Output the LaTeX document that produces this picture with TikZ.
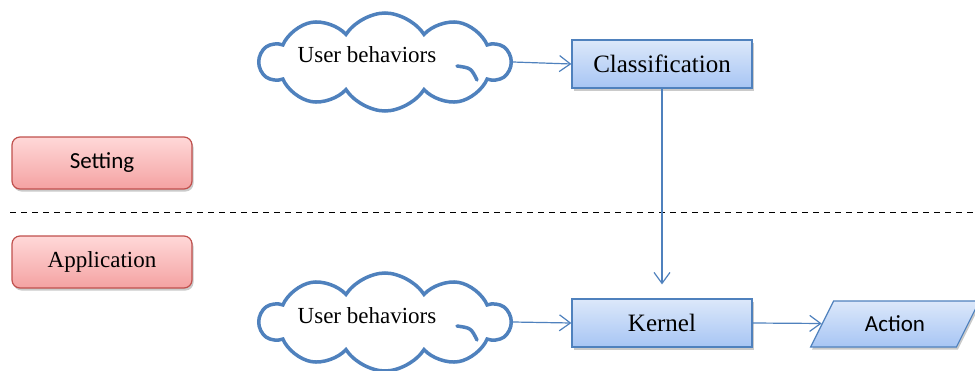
\documentclass[tikz,border=0pt]{standalone}
\usepackage{fontspec}
\setmainfont{Liberation Serif}
\newfontfamily\calib{Carlito}
\usetikzlibrary{shapes.symbols,shapes.geometric,shadows,arrows.meta}
\definecolor{bline}{HTML}{4F81BD}
\definecolor{btop}{HTML}{DCE8FA}
\definecolor{bbot}{HTML}{A7C5F4}
\definecolor{rline}{HTML}{C0504D}
\definecolor{rtop}{HTML}{FFD8D8}
\definecolor{rbot}{HTML}{F4A2A2}
\tikzset{
  x=1pt, y=-1pt,
  bluebox/.style={draw=bline, line width=1.2pt, top color=btop, bottom color=bbot,
    minimum width=180pt, minimum height=48pt, inner sep=0pt,
    font=\fontsize{25}{29}\selectfont,
    drop shadow={shadow xshift=1.5pt, shadow yshift=-2.5pt, opacity=0.35, fill=black!60}},
  redbox/.style={draw=rline, line width=1.2pt, top color=rtop, bottom color=rbot,
    rounded corners=8pt, minimum width=180pt, minimum height=52pt, inner sep=0pt,
    font=\fontsize{23}{27}\selectfont,
    drop shadow={shadow xshift=1.5pt, shadow yshift=-2.5pt, opacity=0.35, fill=black!60}},
  cloudbox/.style={cloud, cloud puffs=10, cloud puff arc=115, aspect=2.5,
    draw=bline, line width=3.5pt, fill=white, minimum width=250pt, minimum height=98pt, inner sep=0pt},
  cloudtext/.style={font=\fontsize{23}{27}\selectfont, inner sep=0pt},
  inarc/.style={draw=bline, line width=3.5pt, line cap=round},
  conn/.style={draw=bline, line width=1.2pt, -{Straight Barb[length=11pt,width=16pt,line width=1.2pt]}},
}
\begin{document}
\begin{tikzpicture}
\useasboundingbox (0,0) rectangle (975,370);
% separator
\draw[black, line width=1pt, dash pattern=on 6pt off 5pt] (10,212) coordinate (sl) -- (975,212) coordinate (sr);
% clouds
\node[cloudbox] (c1) at (385,62) {};
\node[cloudtext] (t1) at (367,55) {User behaviors};
\draw[inarc] ([shift={(72,4)}]c1.center) .. controls ([shift={(86,6)}]c1.center) .. ([shift={(92,18)}]c1.center);
\node[cloudbox] (c2) at (385,322) {};
\node[cloudtext] (t2) at (367,316) {User behaviors};
\draw[inarc] ([shift={(72,4)}]c2.center) .. controls ([shift={(86,6)}]c2.center) .. ([shift={(92,18)}]c2.center);
% boxes
\node[bluebox] (cls) at (662,64) {Classification};
\node[bluebox] (kern) at (662,323) {Kernel};
\node[redbox] (set) at (102,163) {\calib Setting};
\node[redbox] (app) at (102,262) {Application};
% action
\node[trapezium, trapezium left angle=55, trapezium right angle=125, trapezium stretches=true,
  draw=bline, line width=1.2pt, top color=btop, bottom color=bbot,
  minimum width=169pt, minimum height=46pt, inner sep=0pt,
  font=\fontsize{23}{27}\selectfont\calib,
  drop shadow={shadow xshift=1.5pt, shadow yshift=-2.5pt, opacity=0.35, fill=black!60}]
  (act) at (895,324) {Action};
% connectors
\draw[conn] (c1.east) -- (cls.west);
\draw[conn] (c2.east) -- (kern.west);
\draw[conn] (cls.south) -- ([yshift=14pt]kern.north);
\draw[conn] (kern.east) -- (act);
\end{tikzpicture}
\end{document}
